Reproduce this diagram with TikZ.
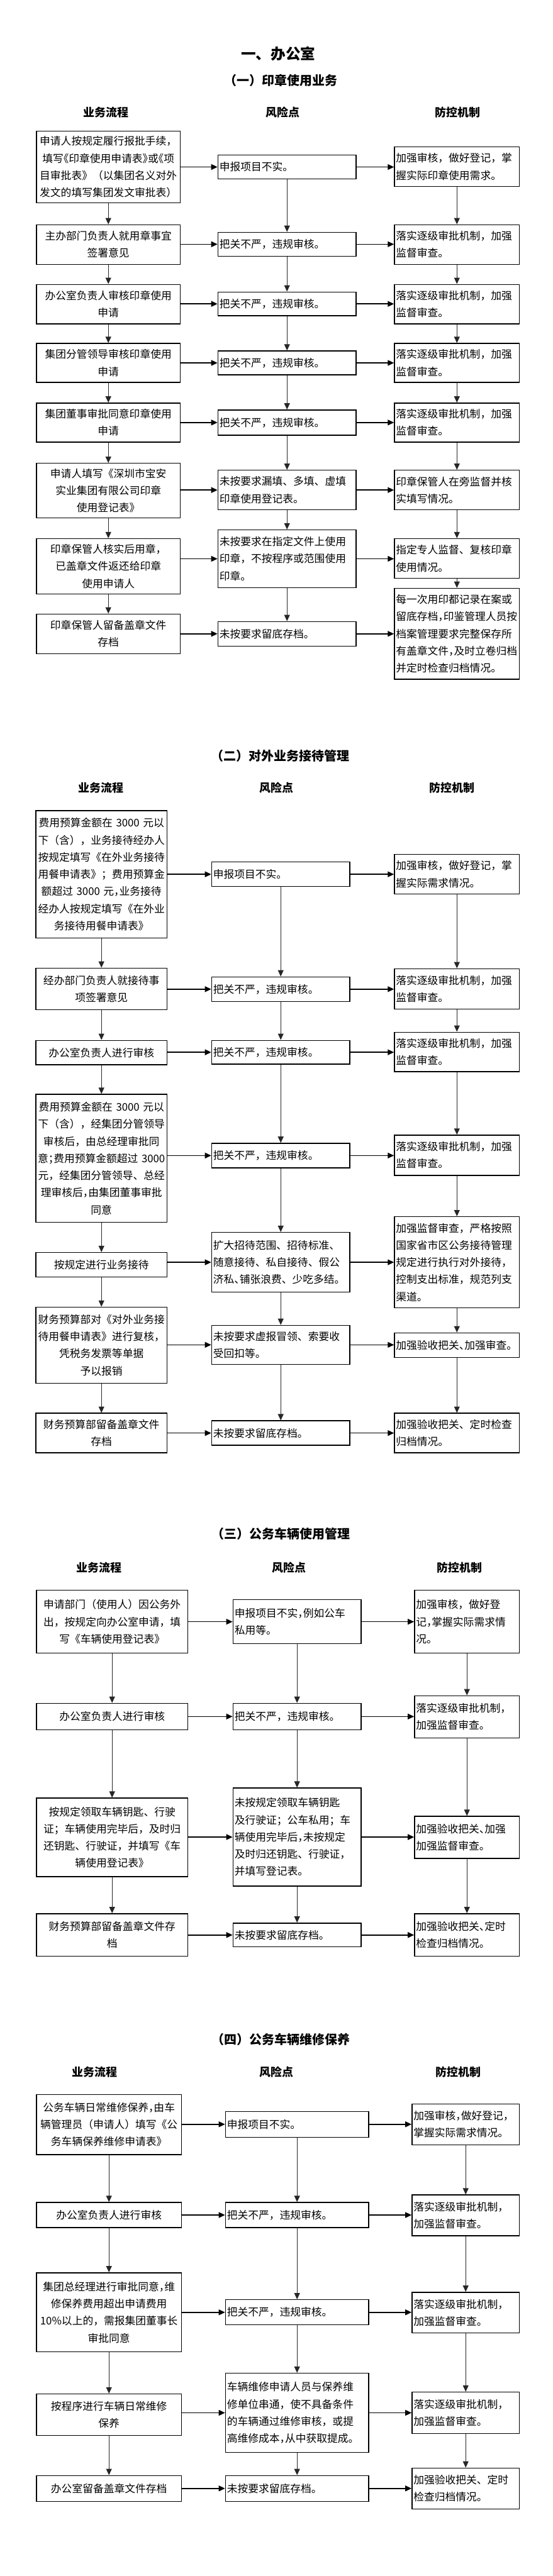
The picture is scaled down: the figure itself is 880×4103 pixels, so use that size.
\documentclass[tikz,border=0pt]{standalone}
\usepackage{fontspec}
\setmainfont{Noto Sans CJK SC}
\newfontfamily\HWfont[RawFeature=+halt]{Noto Sans CJK SC}
\newcommand\HW[1]{{\HWfont #1}}
\newcommand\bodyf{\fontsize{8.4pt}{13.65pt}\selectfont}
\usetikzlibrary{arrows.meta}
\newcommand\bx[7]{%
  \pgfmathsetmacro\BXw{(#4-#2)*0.5}%
  \pgfmathsetmacro\BXh{(#5-#3)*0.5}%
  \pgfmathsetmacro\BXt{(#4-#2)*0.5-2.4}%
  \node[#6, minimum width=\BXw pt, minimum height=\BXh pt, text width=\BXt pt] (#1) at ({(#2+#4)/2},{(#3+#5)/2}) {#7};}
\tikzset{
  box/.style={draw, line width=0.7pt, inner xsep=1.2pt, inner ysep=0pt, font=\bodyf},
  lb/.style={box, align=center},
  mb/.style={box, align=left},
  arr/.style={-{Triangle[length=5pt,width=4.5pt]}, line width=0.5pt, black!85},
  harr/.style={-{Triangle[length=5pt,width=4.5pt]}, line width=0.75pt},
  ttl/.style={font=\fontsize{11.8pt}{14pt}\selectfont\bfseries, inner sep=0pt},
  sttl/.style={font=\fontsize{10pt}{12pt}\selectfont\bfseries, inner sep=0pt},
  hdr/.style={font=\fontsize{9pt}{11pt}\selectfont\bfseries, inner sep=0pt},
}
\begin{document}
\begin{tikzpicture}[x=0.5pt,y=-0.5pt]
\useasboundingbox[fill=white] (0,0) rectangle (880,4103);
% ===== Section 1 =====
\node[ttl] (t1) at (443,86) {一、办公室};
\node[sttl] (st1) at (447,128) {（一）印章使用业务};
\node[hdr] (h1a) at (169,179) {业务流程};
\node[hdr] (h1b) at (450,179) {风险点};
\node[hdr] (h1c) at (729,179) {防控机制};
\bx{S1L1}{58}{209}{287}{323}{lb}{申请人按规定履行报批手续，\\填写\HW{《}印章使用申请表\HW{》}或\HW{《}项\\目审批表》（以集团名义对外\\发文的填写集团发文审批表）}
\bx{S1M1}{347}{247}{567}{285}{mb}{申报项目不实。}
\bx{S1R1}{628}{234}{827}{297}{mb}{加强审核，做好登记，掌\\握实际印章使用需求。}
\bx{S1L2}{58}{358}{287}{421}{lb}{主办部门负责人就用章事宜\\签署意见}
\bx{S1M2}{347}{370}{567}{408}{mb}{把关不严，违规审核。}
\bx{S1R2}{628}{358}{827}{421}{mb}{落实逐级审批机制，加强\\监督审查。}
\bx{S1L3}{58}{453}{287}{516}{lb}{办公室负责人审核印章使用\\申请}
\bx{S1M3}{347}{465}{567}{503}{mb}{把关不严，违规审核。}
\bx{S1R3}{628}{453}{827}{516}{mb}{落实逐级审批机制，加强\\监督审查。}
\bx{S1L4}{58}{547}{287}{609}{lb}{集团分管领导审核印章使用\\申请}
\bx{S1M4}{347}{559}{567}{597}{mb}{把关不严，违规审核。}
\bx{S1R4}{628}{547}{827}{609}{mb}{落实逐级审批机制，加强\\监督审查。}
\bx{S1L5}{58}{642}{287}{704}{lb}{集团董事审批同意印章使用\\申请}
\bx{S1M5}{347}{653}{567}{693}{mb}{把关不严，违规审核。}
\bx{S1R5}{628}{642}{827}{704}{mb}{落实逐级审批机制，加强\\监督审查。}
\bx{S1L6}{58}{738}{287}{825}{lb}{申请人填写《深圳市宝安\\实业集团有限公司印章\\使用登记表》}
\bx{S1M6}{347}{749}{567}{812}{mb}{未按要求漏填、多填、虚填\\印章使用登记表。}
\bx{S1R6}{628}{749}{827}{812}{mb}{印章保管人在旁监督并核\\实填写情况。}
\bx{S1L7}{58}{858}{287}{946}{lb}{印章保管人核实后用章，\\已盖章文件返还给印章\\使用申请人}
\bx{S1M7}{347}{844}{567}{936}{mb}{未按要求在指定文件上使用\\印章，不按程序或范围使用\\印章。}
\bx{S1R7}{628}{858}{827}{921}{mb}{指定专人监督、复核印章\\使用情况。}
\bx{S1L8}{58}{978}{287}{1041}{lb}{印章保管人留备盖章文件\\存档}
\bx{S1M8}{347}{990}{567}{1029}{mb}{未按要求留底存档。}
\bx{S1R8}{628}{937}{827}{1082}{mb}{每一次用印都记录在案或\\留底存档\HW{，}印鉴管理人员按\\档案管理要求完整保存所\\有盖章文件\HW{，}及时立卷归档\\并定时检查归档情况。}
\foreach \i/\j in {1/2,2/3,3/4,4/5,5/6,6/7,7/8} {
  \draw[arr] (S1L\i) -- (S1L\j);
  \draw[arr] (S1M\i) -- (S1M\j);
  \draw[arr] (S1R\i) -- (S1R\j);
}
\foreach \i in {1,...,8} {
  \draw[harr] (S1L\i.east |- S1M\i.west) -- (S1M\i.west);
  \draw[harr] (S1M\i.east) -- (S1M\i.east -| S1R\i.west);
}
% ===== Section 2 =====
\node[sttl] (st2) at (446,1204) {（二）对外业务接待管理};
\node[hdr] (h2a) at (161,1255) {业务流程};
\node[hdr] (h2b) at (440,1255) {风险点};
\node[hdr] (h2c) at (720,1255) {防控机制};
\bx{S2L1}{57}{1291}{266}{1494}{lb}{费用预算金额在 3000 元以\\下（含），业务接待经办人\\按规定填写《在外业务接待\\用餐申请表》；费用预算金\\额超过 3000 元\HW{，}业务接待\\经办人按规定填写《在外业\\务接待用餐申请表》}
\bx{S2M1}{337}{1373}{557}{1412}{mb}{申报项目不实。}
\bx{S2R1}{628}{1361}{827}{1424}{mb}{加强审核，做好登记，掌\\握实际需求情况。}
\bx{S2L2}{57}{1542}{266}{1608}{lb}{经办部门负责人就接待事\\项签署意见}
\bx{S2M2}{337}{1556}{557}{1595}{mb}{把关不严，违规审核。}
\bx{S2R2}{628}{1543}{827}{1607}{mb}{落实逐级审批机制，加强\\监督审查。}
\bx{S2L3}{57}{1657}{266}{1696}{lb}{办公室负责人进行审核}
\bx{S2M3}{337}{1657}{557}{1695}{mb}{把关不严，违规审核。}
\bx{S2R3}{628}{1644}{827}{1707}{mb}{落实逐级审批机制，加强\\监督审查。}
\bx{S2L4}{57}{1743}{266}{1947}{lb}{费用预算金额在 3000 元以\\下（含），经集团分管领导\\审核后，由总经理审批同\\意\HW{；}费用预算金额超过 3000\\元，经集团分管领导、总经\\理审核后\HW{，}由集团董事审批\\同意}
\bx{S2M4}{337}{1821}{557}{1860}{mb}{把关不严，违规审核。}
\bx{S2R4}{628}{1808}{827}{1872}{mb}{落实逐级审批机制，加强\\监督审查。}
\bx{S2L5}{57}{1995}{266}{2034}{lb}{按规定进行业务接待}
\bx{S2M5}{337}{1963}{557}{2058}{mb}{扩大招待范围、招待标准、\\随意接待、私自接待、假公\\济私\HW{、}铺张浪费、少吃多结。}
\bx{S2R5}{628}{1938}{827}{2083}{mb}{加强监督审查，严格按照\\国家省市区公务接待管理\\规定进行执行对外接待，\\控制支出标准，规范列支\\渠道。}
\bx{S2L6}{57}{2082}{266}{2203}{lb}{财务预算部对《对外业务接\\待用餐申请表》进行复核，\\凭税务发票等单据\\予以报销}
\bx{S2M6}{337}{2111}{557}{2173}{mb}{未按要求虚报冒领、索要收\\受回扣等。}
\bx{S2R6}{628}{2123}{827}{2162}{mb}{加强验收把关\HW{、}加强审查。}
\bx{S2L7}{57}{2251}{266}{2314}{lb}{财务预算部留备盖章文件\\存档}
\bx{S2M7}{337}{2263}{557}{2302}{mb}{未按要求留底存档。}
\bx{S2R7}{628}{2251}{827}{2314}{mb}{加强验收把关、定时检查\\归档情况。}
\foreach \i/\j in {1/2,2/3,3/4,4/5,5/6,6/7} {
  \draw[arr] (S2L\i) -- (S2L\j);
  \draw[arr] (S2M\i) -- (S2M\j);
  \draw[arr] (S2R\i) -- (S2R\j);
}
\foreach \i in {1,...,7} {
  \draw[harr] (S2L\i.east |- S2M\i.west) -- (S2M\i.west);
  \draw[harr] (S2M\i.east) -- (S2M\i.east -| S2R\i.west);
}
% ===== Section 3 =====
\node[sttl] (st3) at (447,2443) {（三）公务车辆使用管理};
\node[hdr] (h3a) at (158,2497) {业务流程};
\node[hdr] (h3b) at (460,2497) {风险点};
\node[hdr] (h3c) at (732,2497) {防控机制};
\bx{S3L1}{58}{2533}{299}{2633}{lb}{申请部门（使用人）因公务外\\出，按规定向办公室申请，填\\写《车辆使用登记表》}
\bx{S3M1}{371}{2548}{575}{2618}{mb}{申报项目不实\HW{，}例如公车\\私用等。}
\bx{S3R1}{660}{2533}{827}{2633}{mb}{加强审核，做好登\\记\HW{，}掌握实际需求情\\况。}
\bx{S3L2}{58}{2713}{299}{2755}{lb}{办公室负责人进行审核}
\bx{S3M2}{371}{2713}{575}{2755}{mb}{把关不严，违规审核。}
\bx{S3R2}{660}{2701}{827}{2768}{mb}{落实逐级审批机制，\\加强监督审查。}
\bx{S3L3}{58}{2864}{299}{2989}{lb}{按规定领取车辆钥匙、行驶\\证；车辆使用完毕后，及时归\\还钥匙、行驶证，并填写《车\\辆使用登记表》}
\bx{S3M3}{371}{2848}{575}{3004}{mb}{未按规定领取车辆钥匙\\及行驶证；公车私用；车\\辆使用完毕后\HW{，}未按规定\\及时归还钥匙、行驶证，\\并填写登记表。}
\bx{S3R3}{660}{2893}{827}{2960}{mb}{加强验收把关\HW{、}加强\\加强监督审查。}
\bx{S3L4}{58}{3048}{299}{3116}{lb}{财务预算部留备盖章文件存\\档}
\bx{S3M4}{371}{3063}{575}{3101}{mb}{未按要求留底存档。}
\bx{S3R4}{660}{3048}{827}{3116}{mb}{加强验收把关\HW{、}定时\\检查归档情况。}
\foreach \i/\j in {1/2,2/3,3/4} {
  \draw[arr] (S3L\i) -- (S3L\j);
  \draw[arr] (S3M\i) -- (S3M\j);
  \draw[arr] (S3R\i) -- (S3R\j);
}
\foreach \i in {1,...,4} {
  \draw[harr] (S3L\i.east |- S3M\i.west) -- (S3M\i.west);
  \draw[harr] (S3M\i.east) -- (S3M\i.east -| S3R\i.west);
}
% ===== Section 4 =====
\node[sttl] (st4) at (447,3248) {（四）公务车辆维修保养};
\node[hdr] (h4a) at (151,3300) {业务流程};
\node[hdr] (h4b) at (440,3300) {风险点};
\node[hdr] (h4c) at (730,3300) {防控机制};
\bx{S4L1}{58}{3336}{289}{3432}{lb}{公务车辆日常维修保养\HW{，}由车\\辆管理员（申请人）填写《公\\务车辆保养维修申请表》}
\bx{S4M1}{359}{3363}{587}{3404}{mb}{申报项目不实。}
\bx{S4R1}{656}{3351}{827}{3416}{mb}{加强审核\HW{，}做好登记，\\掌握实际需求情况。}
\bx{S4L2}{58}{3508}{289}{3548}{lb}{办公室负责人进行审核}
\bx{S4M2}{359}{3508}{587}{3548}{mb}{把关不严，违规审核。}
\bx{S4R2}{656}{3496}{827}{3561}{mb}{落实逐级审批机制，\\加强监督审查。}
\bx{S4L3}{58}{3620}{289}{3746}{lb}{集团总经理进行审批同意\HW{，}维\\修保养费用超出申请费用\\10\%以上的，需报集团董事长\\审批同意}
\bx{S4M3}{359}{3663}{587}{3703}{mb}{把关不严，违规审核。}
\bx{S4R3}{656}{3651}{827}{3716}{mb}{落实逐级审批机制，\\加强监督审查。}
\bx{S4L4}{58}{3813}{289}{3879}{lb}{按程序进行车辆日常维修\\保养}
\bx{S4M4}{359}{3780}{587}{3906}{mb}{车辆维修申请人员与保养维\\修单位串通，使不具备条件\\的车辆通过维修审核，或提\\高维修成本\HW{，}从中获取提成。}
\bx{S4R4}{656}{3810}{827}{3876}{mb}{落实逐级审批机制，\\加强监督审查。}
\bx{S4L5}{58}{3943}{289}{3984}{lb}{办公室留备盖章文件存档}
\bx{S4M5}{359}{3943}{587}{3984}{mb}{未按要求留底存档。}
\bx{S4R5}{656}{3931}{827}{3996}{mb}{加强验收把关、定时\\检查归档情况。}
\foreach \i/\j in {1/2,2/3,3/4,4/5} {
  \draw[arr] (S4L\i) -- (S4L\j);
  \draw[arr] (S4M\i) -- (S4M\j);
  \draw[arr] (S4R\i) -- (S4R\j);
}
\foreach \i in {1,...,5} {
  \draw[harr] (S4L\i.east |- S4M\i.west) -- (S4M\i.west);
  \draw[harr] (S4M\i.east) -- (S4M\i.east -| S4R\i.west);
}
\end{tikzpicture}
\end{document}
